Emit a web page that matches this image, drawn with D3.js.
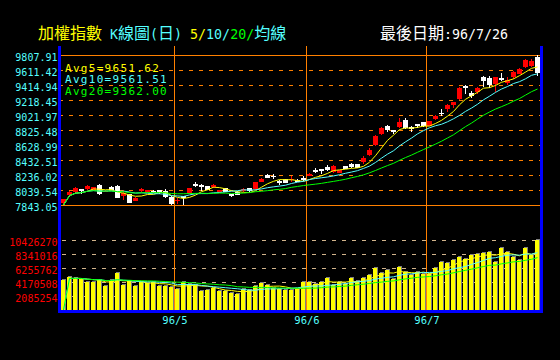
<!DOCTYPE html>
<html><head><meta charset="utf-8">
<script src="https://cdn.jsdelivr.net/npm/d3@7"></script>
<style>html,body{margin:0;padding:0;background:#000;overflow:hidden}svg{display:block}</style>
</head><body>
<svg id="c" width="560" height="360"></svg>
<script>
// ---- data ----
const opens  = [7865,7970,8017,8053,8049,8030,8101,8020,8083,8096, 7965,7983,7895,8022,8004,8030,8039,8030,7952,7895,
                7957,7987,8122,8105,8092,8079,8009,8066,7987,8013, 8030,8066,8053,8148,8236,8225,8151,8180,8167,8174,
                8201,8223,8305,8315,8341,8271,8266,8354,8384,8380, 8406,8494,8633,8773,8878,8826,8861,8960,8865,8904,
                8930,8878,8974,9048,9101,9149,9236,9406,9314,9327, 9520,9507,9428,9511,9437,9520,9563,9651,9664,9782];
const highs  = [7928,8026,8075,8058,8109,8085,8118,8035,8095,8105, 8039,7990,7945,8066,8045,8035,8045,8053,7958,7939,
                7962,8072,8140,8112,8098,8114,8045,8072,7992,8020, 8066,8072,8148,8195,8249,8249,8170,8188,8223,8180,
                8223,8260,8324,8320,8367,8367,8305,8360,8397,8386, 8481,8586,8760,8869,8885,8832,8979,8979,8878,8910,
                8936,8945,9022,9097,9160,9196,9385,9415,9336,9389, 9533,9533,9520,9568,9516,9602,9634,9750,9756,9807.91];
const lows   = [7860,7948,8000,7987,8036,8020,7970,8010,8035,7935, 7909,7868,7890,8009,8000,8000,7990,7940,7846,7860,
                7843.05,7982,8079,8026,8035,8062,8004,8012,7952,7975, 8013,8017,8043,8143,8193,8184,8105,8125,8140,8140,
                8151,8218,8266,8249,8292,8266,8262,8315,8324,8322, 8384,8485,8620,8760,8795,8777,8856,8845,8803,8848,
                8868,8872,8957,9005,9065,9110,9218,9293,9249,9301, 9393,9372,9327,9467,9415,9490,9555,9634,9651,9537];
const closes = [7922,8009,8062,8030,8092,8075,7987,8025,8040,7939, 7996,7873,7939,8057,8039,8004,7996,7944,7856,7915,
                7931,8066,8096,8079,8039,8101,8039,8017,7957,7978, 8053,8022,8140,8188,8201,8215,8138,8131,8184,8148,
                8167,8253,8275,8288,8301,8354,8298,8319,8345,8328, 8459,8563,8747,8852,8826,8799,8934,8848,8839,8878,
                8882.9,8939,9014,9044,9153,9192,9376,9372,9276,9376, 9466,9410,9515,9485,9481,9585,9621,9746,9733,9573.1];
const volumes = [4470000,4920000,4770000,4620000,4170000,4170000,4470000,3530000,4470000,5510000,
                 3770000,4320000,3620000,4170000,4020000,4170000,3620000,3530000,3380000,3130000,
                 4170000,3920000,3770000,2880000,3030000,3280000,2880000,2780000,2530000,2380000,
                 3130000,3030000,3620000,4020000,3770000,3280000,3130000,3030000,3030000,3130000,
                 4170000,4170000,3920000,4170000,4770000,3770000,4170000,3920000,4770000,4270000,
                 4770000,5160000,6260000,5510000,5960000,4620000,6400000,5660000,5160000,5660000,
                 5360000,5360000,6260000,7150000,7000000,7450000,7890000,7600000,8190000,8340000,
                 8490000,8640000,7150000,9230000,8640000,7890000,7450000,9230000,8190000,10426270];
const priceTicks = [7843.05,8039.54,8236.02,8432.51,8628.99,8825.48,9021.97,9218.45,9414.94,9611.42,9807.91];
const volumeTicks = [2085254,4170508,6255762,8341016,10426270];
const monthLabels = ["96/5","96/6","96/7"];
const monthStartIdx = [19,41,61];
const maPeriods = [5,10,20];
const lastDate = "96/7/26";

// ---- setup ----
const svg = d3.select('#c');
svg.append('rect').attr('width',560).attr('height',360).attr('fill','#000');
const YEL='#ffff00', CYA='#55ffff', GRN='#00ff00', ORA='#ff8000', RED='#ff0000', BLU='#0000ff';
const maColors = [YEL, CYA, GRN];
const N = closes.length;
const idx = d3.range(N);
const x = d3.scaleBand().domain(idx).range([60.5, 60.5 + 6*N]).paddingInner(1/6).paddingOuter(1/12);
const y = d3.scaleLinear().domain([priceTicks[0], priceTicks[priceTicks.length-1]]).range([205,55]);
const yc = y.copy().clamp(true);
const yv = d3.scaleLinear().domain([0, volumeTicks[volumeTicks.length-1]]).range([310,240]).clamp(true);
const L = 59, R = 540;
const mono = "'DejaVu Sans Mono', monospace";
const cjk = "'Noto Sans CJK TC', 'Noto Sans CJK SC', sans-serif";

function ma(arr, n){
  return arr.map((v,i)=> i===0 ? 0 : d3.mean(arr.slice(Math.max(0,i-n+1), i+1)));
}

// ---- grid ----
const grid = svg.append('g').attr('shape-rendering','crispEdges');
priceTicks.forEach((t,k)=>{
  const yy = Math.round(y(t))+0.5;
  const solid = (k===0 || k===priceTicks.length-1);
  grid.append('line').attr('x1', solid?61:L).attr('x2',R).attr('y1',yy).attr('y2',yy)
    .attr('stroke',ORA).attr('stroke-width',1).attr('stroke-dasharray', solid?null:'4,6');
});
volumeTicks.forEach(t=>{
  const yy = Math.round(yv(t))+0.5;
  grid.append('line').attr('x1',62).attr('x2',R).attr('y1',yy).attr('y2',yy)
    .attr('stroke','#d2b48c').attr('stroke-width',1).attr('stroke-dasharray','4,6');
});
monthStartIdx.forEach(i=>{
  const xx = x(i)-0.5;
  grid.append('line').attr('x1',xx).attr('x2',xx).attr('y1',46).attr('y2',310)
    .attr('stroke',ORA).attr('stroke-width',1);
});

// ---- volume bars ----
const vb = svg.append('g').attr('shape-rendering','crispEdges');
idx.forEach(i=>{
  const top = yv(volumes[i]);
  vb.append('rect').attr('x',x(i)+1).attr('y',top-1).attr('width',4).attr('height',310-top+1).attr('fill','#808080');
  vb.append('rect').attr('x',x(i)).attr('y',top).attr('width',4).attr('height',310-top).attr('fill',YEL);
});

// ---- candles ----
const cg = svg.append('g').attr('shape-rendering','crispEdges');
idx.forEach(i=>{
  const up = closes[i] >= opens[i];
  const col = up ? RED : '#ffffff';
  const cx = x(i)+2.5;
  cg.append('line').attr('x1',cx).attr('x2',cx).attr('y1',y(highs[i])).attr('y2',y(lows[i])).attr('stroke',col);
  const yt = y(Math.max(opens[i],closes[i])), yb = y(Math.min(opens[i],closes[i]));
  cg.append('rect').attr('x',x(i)).attr('y',yt).attr('width',x.bandwidth()).attr('height',Math.max(1.2,yb-yt)).attr('fill',col);
});

// ---- moving averages ----
const mg = svg.append('g');
maPeriods.forEach((n,k)=>{
  const m = ma(closes,n);
  mg.append('path').attr('d', d3.line().x((d,i)=>x(i)+2.5).y(d=>yc(d))(m))
    .attr('fill','none').attr('stroke',maColors[k]).attr('stroke-width',1);
  const mv = ma(volumes,n);
  mg.append('path').attr('d', d3.line().x((d,i)=>x(i)+2.5).y(d=>yv(d))(mv))
    .attr('fill','none').attr('stroke',maColors[k]).attr('stroke-width',1);
});

// ---- blue frame ----
const bg = svg.append('g').attr('shape-rendering','crispEdges');
bg.append('rect').attr('x',58).attr('y',46).attr('width',3).attr('height',267).attr('fill',BLU);
bg.append('rect').attr('x',540).attr('y',46).attr('width',3).attr('height',267).attr('fill',BLU);
bg.append('rect').attr('x',58).attr('y',310).attr('width',485).attr('height',3).attr('fill',BLU);

// ---- axis labels ----
const lab = svg.append('g');
priceTicks.forEach(t=>{
  lab.append('text').attr('x',57.5).attr('y',Math.round(y(t))+6).attr('text-anchor','end')
    .attr('font-family',mono).attr('font-size',10).attr('fill',CYA).text(t.toFixed(2));
});
volumeTicks.forEach(t=>{
  lab.append('text').attr('x',57.5).attr('y',Math.round(yv(t))+5.7).attr('text-anchor','end')
    .attr('font-family',mono).attr('font-size',10).attr('fill',RED).text(String(t));
});
monthStartIdx.forEach((i,k)=>{
  lab.append('text').attr('x',x(i)).attr('y',324).attr('text-anchor','middle')
    .attr('font-family',mono).attr('font-size',10.5).attr('fill',CYA).text(monthLabels[k]);
});

// ---- legend ----
maPeriods.forEach((n,k)=>{
  const m = ma(closes,n);
  lab.append('text').attr('x',65).attr('y',71.5 + k*11.8)
    .attr('font-family',mono).attr('font-size',11).attr('letter-spacing',1.3).attr('fill',maColors[k])
    .text('Avg'+n+'='+m[N-1].toFixed(2));
});

// ---- title ----
function seg(textSel, s){
  s.forEach(p=>{
    textSel.append('tspan').attr('fill',p.c)
      .attr('font-family', p.k ? cjk : mono).attr('font-size', p.k ? 16 : 13.3).text(p.t);
  });
}
const t1 = svg.append('text').attr('x',38).attr('y',39).attr('xml:space','preserve').style('white-space','pre');
seg(t1, [
  {t:'加權指數',c:YEL,k:1},{t:' K',c:CYA},{t:'線圖',c:CYA,k:1},{t:'(',c:CYA},{t:'日',c:CYA,k:1},{t:') ',c:CYA},
  {t:'5/',c:YEL},{t:'10/',c:CYA},{t:'20/',c:GRN},{t:'均線',c:CYA,k:1}
]);
const t2 = svg.append('text').attr('x',380).attr('y',39);
seg(t2, [{t:'最後日期',c:'#ffffff',k:1},{t:':'+lastDate,c:'#ffffff'}]);
</script>
</body></html>
